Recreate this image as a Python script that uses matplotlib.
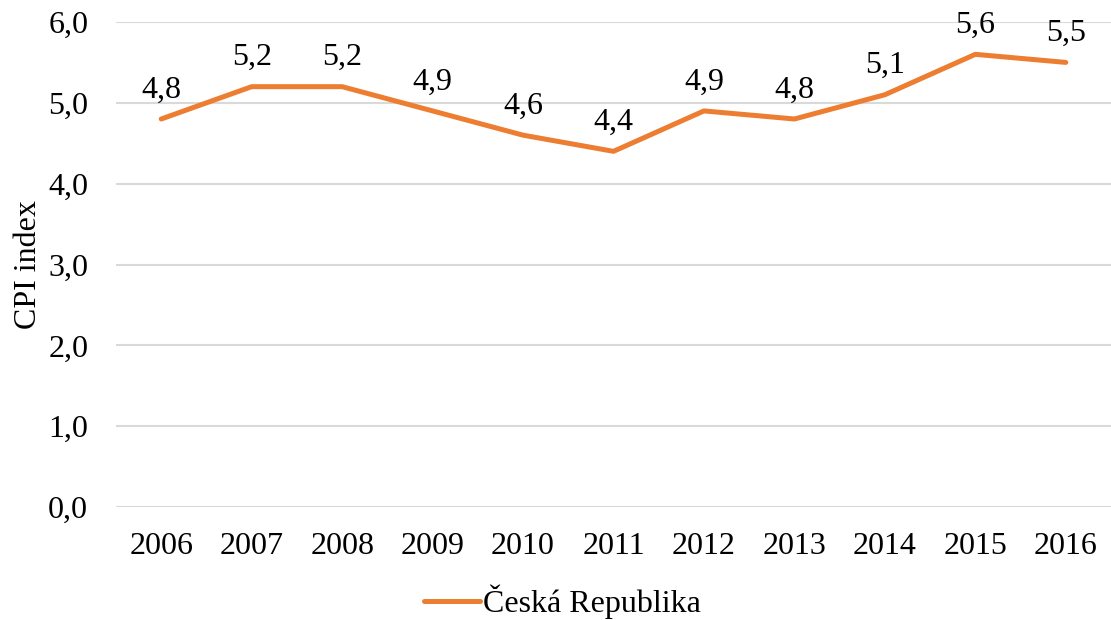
import matplotlib.pyplot as plt
from matplotlib.ticker import FuncFormatter

years = ['2006', '2007', '2008', '2009', '2010', '2011',
         '2012', '2013', '2014', '2015', '2016']
cpi = [4.8, 5.2, 5.2, 4.9, 4.6, 4.4, 4.9, 4.8, 5.1, 5.6, 5.5]
series_name = 'Česká Republika'

plt.rcParams['font.family'] = ['Liberation Serif', 'DejaVu Serif']

ORANGE = '#ED7D31'
GRID = '#D9D9D9'
FS = 23


def comma(v, _pos=None):
    return f'{v:.1f}'.replace('.', ',')


fig = plt.figure(figsize=(11.11, 6.2), dpi=100)
ax = fig.add_axes([116 / 1111, 1 - 507 / 620, 1 - 116 / 1111, (507 - 22) / 620])

x = list(range(len(years)))
ax.plot(x, cpi, color=ORANGE, linewidth=3.6, solid_capstyle='round',
        label=series_name, zorder=3)
for xi, v in zip(x, cpi):
    ax.annotate(comma(v), (xi, v), xytext=(0, 10.5), textcoords='offset points',
                ha='center', va='bottom', fontsize=FS)

ax.set_xlim(-0.5, len(years) - 0.5)
ax.set_ylim(0, 6)
ax.set_yticks([0, 1, 2, 3, 4, 5, 6])
ax.yaxis.set_major_formatter(FuncFormatter(comma))
ax.set_xticks(x)
ax.set_xticklabels(years)
ax.tick_params(axis='both', length=0, labelsize=FS)
ax.tick_params(axis='y', pad=20)
ax.tick_params(axis='x', pad=18)
ax.grid(axis='y', color=GRID, linewidth=1.5)
ax.set_axisbelow(True)
for s in ax.spines.values():
    s.set_visible(False)

ax.set_ylabel('CPI index', fontsize=FS)
ax.yaxis.set_label_coords(-0.073, 0.5)

fig.legend(loc='center', bbox_to_anchor=(0.506, 1 - 602 / 620), frameon=False,
           fontsize=FS, handlelength=1.75, handletextpad=0.1,
           borderpad=0.1, borderaxespad=0)

fig.savefig('out.png', dpi=100)
